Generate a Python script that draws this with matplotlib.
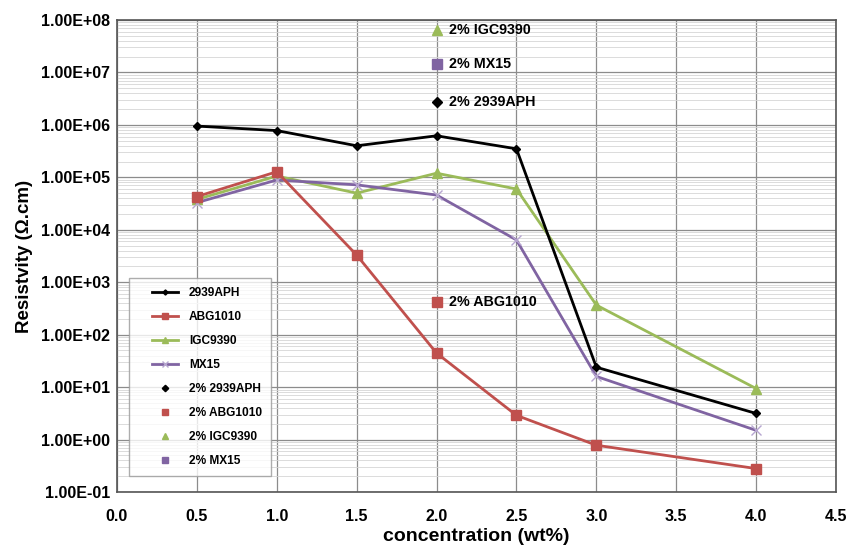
import matplotlib
matplotlib.use("Agg")
import matplotlib.pyplot as plt
import numpy as np
from matplotlib.ticker import LogLocator, FixedLocator, NullFormatter
from matplotlib.lines import Line2D
from matplotlib.legend_handler import HandlerLine2D

plt.rcParams['font.family'] = ['Liberation Sans', 'DejaVu Sans']

conc = [0.5, 1.0, 1.5, 2.0, 2.5, 3.0, 4.0]
aph2939 = [9.5e5, 7.8e5, 4.0e5, 6.2e5, 3.5e5, 24, 3.15]
abg1010 = [4.3e4, 1.28e5, 3.3e3, 44.6, 2.9, 0.78, 0.28]
igc9390 = [3.8e4, 1.06e5, 5.0e4, 1.2e5, 6.0e4, 367, 9.4]
mx15 = [3.3e4, 8.9e4, 7.2e4, 4.6e4, 6.4e3, 16, 1.5]

single_x = 2.0
single_aph = 2.75e6
single_abg = 417
single_igc = 6.5e7
single_mx = 1.45e7

xticks = [0.0, 0.5, 1.0, 1.5, 2.0, 2.5, 3.0, 3.5, 4.0, 4.5]
yticks = [1e-1, 1e0, 1e1, 1e2, 1e3, 1e4, 1e5, 1e6, 1e7, 1e8]
ytick_labels = ["1.00E-01", "1.00E+00", "1.00E+01", "1.00E+02", "1.00E+03",
                "1.00E+04", "1.00E+05", "1.00E+06", "1.00E+07", "1.00E+08"]

c_black = "#000000"
c_red = "#C0504D"
c_green = "#9BBB59"
c_purple = "#8064A2"


class ShiftedHandler(HandlerLine2D):
    def get_xdata(self, legend, xdescent, ydescent, width, height, fontsize):
        off = 0.36 * width
        x0 = -xdescent + off
        x1 = -xdescent + width
        return np.array([x0, x1]), np.array([(x0 + x1) / 2])


fig = plt.figure(figsize=(8.49, 5.47), dpi=100)
ax = fig.add_axes([0.1378, 0.1005, 0.8469, 0.8629])

ax.plot(conc, aph2939, color=c_black, lw=2, marker='D', ms=4, label="2939APH", zorder=5)
ax.plot(conc, abg1010, color=c_red, lw=2, marker='s', ms=7, label="ABG1010", zorder=4)
ax.plot(conc, igc9390, color=c_green, lw=2, marker='^', ms=7, label="IGC9390", zorder=3)
ax.plot(conc, mx15, color=c_purple, lw=2, marker='x', ms=7, mew=1, mec="#B7A6D0", label="MX15", zorder=3)

ax.plot([single_x], [single_aph], ls='none', marker='D', ms=5, color=c_black, label="2% 2939APH", zorder=6)
ax.plot([single_x], [single_abg], ls='none', marker='s', ms=7, color=c_red, label="2% ABG1010", zorder=6)
ax.plot([single_x], [single_igc], ls='none', marker='^', ms=7, color=c_green, label="2% IGC9390", zorder=6)
ax.plot([single_x], [single_mx], ls='none', marker='s', ms=7, color=c_purple, label="2% MX15", zorder=6)

for yv, txt in [(single_aph, "2% 2939APH"), (single_abg, "2% ABG1010"),
                (single_igc, "2% IGC9390"), (single_mx, "2% MX15")]:
    ax.annotate(txt, (single_x, yv), xytext=(9, 0), textcoords='offset points',
                va='center', ha='left', fontsize=10.3, fontweight='bold')

ax.set_yscale('log')
ax.set_xlim(0, 4.5)
ax.set_ylim(1e-1, 1e8)
ax.set_xticks(xticks)
ax.set_xticklabels([f"{v:.1f}" for v in xticks], fontsize=11.5, fontweight='bold')
ax.yaxis.set_major_locator(FixedLocator(yticks))
ax.set_yticklabels(ytick_labels, fontsize=11.5, fontweight='bold')
ax.yaxis.set_minor_locator(LogLocator(base=10, subs=range(2, 10), numticks=20))
ax.yaxis.set_minor_formatter(NullFormatter())
ax.tick_params(axis='both', which='both', length=0)
ax.tick_params(axis='x', pad=12)
ax.tick_params(axis='y', pad=5)

ax.grid(True, which='major', axis='both', color='#8c8c8c', lw=0.9)
ax.grid(True, which='minor', axis='y', color='#d6d6d6', lw=0.6)
ax.set_axisbelow(True)
for s in ax.spines.values():
    s.set_color('#555555')
    s.set_linewidth(1.2)

ax.set_xlabel("concentration (wt%)", fontsize=14, fontweight='bold', labelpad=3)
ax.set_ylabel("Resistvity (Ω.cm)", fontsize=13.5, fontweight='bold', labelpad=6)

leg = ax.legend(loc='lower left', bbox_to_anchor=(0.008, 0.022),
                prop={'weight': 'bold', 'size': 8.6}, frameon=True, fancybox=False,
                edgecolor='#999999', labelspacing=1.0, borderpad=0.75,
                handlelength=3.4, handletextpad=0.9, markerscale=0.65,
                handler_map={Line2D: ShiftedHandler()})
leg.get_frame().set_linewidth(1.0)

fig.savefig("out.png", dpi=100)
